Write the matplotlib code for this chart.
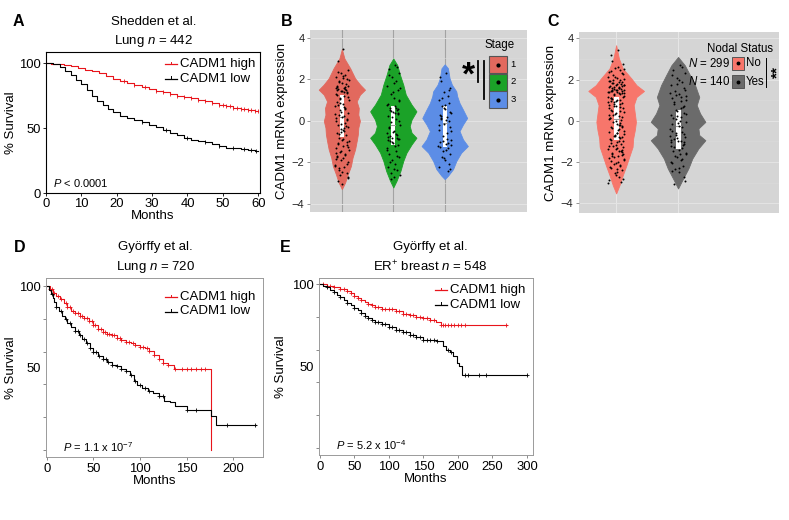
import numpy as np
import matplotlib
matplotlib.use("Agg")
import matplotlib.pyplot as plt
from matplotlib.patches import Rectangle

plt.rcParams['font.family'] = ['Liberation Sans', 'DejaVu Sans']
plt.rcParams['mathtext.fontset'] = 'custom'
plt.rcParams['mathtext.rm'] = 'Liberation Sans'
plt.rcParams['mathtext.it'] = 'Liberation Sans:italic'

# ---- data ----
# A: Shedden et al. (months, % survival)
tA_hi = [0, 1.5, 3, 5, 7, 9, 11, 13, 15, 17, 19, 21, 23, 25, 27, 29, 31, 33, 35, 37, 39,
         41, 43, 45, 47, 49, 51, 53, 55, 57, 59, 60]
sA_hi = [100, 99.5, 99, 98.3, 97.5, 96.5, 95, 93.5, 92, 90, 88, 86, 84.5, 83, 81.5, 80, 78.8,
         77.5, 76, 75, 74, 72.8, 71.8, 70.5, 69, 68, 66.8, 65.5, 64.5, 63.8, 63, 63]
tA_lo = [0, 2, 4, 5.5, 7, 8.5, 10, 11.5, 13, 14.5, 16, 17.5, 19, 21, 23, 25, 27, 29, 31, 33,
         35, 37, 39, 41, 43, 45, 47, 49, 51, 53, 55, 57, 59, 60]
sA_lo = [100, 99, 97, 94, 91, 87, 83.5, 79, 75, 71, 67.5, 64.5, 62, 59, 57.5, 56, 54.5, 52.5,
         50.5, 48.5, 46.5, 44.5, 42.5, 41, 40, 39, 37.5, 36, 35, 34.5, 34, 33, 32, 32]
cA_hi = [22, 25, 28, 31, 33, 35, 37, 39, 41, 43, 45, 47, 49, 50, 51, 52, 53, 54, 55, 56, 57,
         58, 59, 60]
cA_lo = [27, 34, 40, 45, 49, 53, 56, 58, 59.5]

# D: Gyorffy lung
tD_hi = [0, 3, 6, 10, 14, 18, 22, 26, 30, 35, 40, 45, 50, 55, 60, 65, 70, 75, 80, 85, 90, 95,
         100, 105, 110, 115, 120, 125, 130, 136, 176]
sD_hi = [100, 98, 96, 94, 92, 89.5, 87, 85, 83.5, 82, 80.5, 78.5, 76, 73.5, 72, 71, 70, 68.5,
         67, 66, 65, 64, 63, 62, 60.5, 58, 55.5, 53, 52, 49.5, 0]
tD_lo = [0, 2, 4, 6, 8, 10, 13, 16, 19, 22, 26, 30, 34, 38, 42, 46, 50, 55, 60, 65, 70, 75, 80,
         85, 89, 93, 97, 102, 108, 114, 120, 126, 132, 138, 150, 176, 181, 224]
sD_lo = [100, 97.5, 95, 92.5, 90, 87.5, 85, 82, 80, 77.5, 75, 72.5, 70, 67.5, 65, 62.5, 60,
         57.5, 55.5, 53.5, 52, 51, 49.5, 48, 46, 42, 39.5, 38, 36, 35, 33, 30, 29, 27, 24.5,
         20.5, 15.5, 15.5]
cD_hi = [3, 5, 8, 12, 15, 20, 22, 25, 28, 30, 33, 35, 38, 40, 43, 45, 48, 50, 52, 55, 58, 60,
         62, 65, 67, 70, 72, 75, 78, 80, 85, 88, 92, 95, 100, 103, 107, 110, 115, 120, 125, 130,
         137, 145, 150, 155, 160, 165, 170]
cD_lo = [5, 10, 15, 20, 25, 30, 33, 36, 40, 43, 46, 50, 53, 56, 60, 63, 66, 70, 75, 80, 85, 90,
         95, 100, 105, 110, 120, 125, 150, 160, 193, 223]

# E: Gyorffy ER+ breast
tE_hi = [0, 10, 20, 30, 40, 45, 50, 55, 60, 65, 70, 75, 80, 90, 100, 110, 120, 130, 140, 150,
         160, 168, 175, 271]
sE_hi = [100, 99, 98, 97, 95.5, 94.5, 93, 91.5, 90, 89, 88, 87, 86, 85, 84.5, 83.5, 82, 81, 80,
         79, 78, 77, 75, 75]
tE_lo = [0, 5, 10, 15, 20, 25, 30, 35, 40, 45, 50, 55, 60, 65, 70, 75, 80, 90, 100, 110, 120,
         130, 140, 150, 160, 170, 178, 183, 188, 193, 198, 202, 206, 300]
sE_lo = [100, 99, 98, 96.5, 95, 93.5, 92, 90, 88.5, 87, 85.5, 84, 82.5, 80.5, 79, 78, 77, 75.5,
         73.5, 72, 70.5, 69, 67.5, 66, 65.8, 65.5, 62, 60, 58.5, 56, 52, 50, 44.5, 44.5]
cE_hi = [5, 10, 15, 20, 30, 35, 40, 45, 50, 55, 60, 70, 75, 80, 85, 90, 95, 100, 105, 110, 115,
         120, 125, 130, 135, 140, 145, 150, 155, 160, 165, 175, 178, 182, 186, 190, 195, 200,
         205, 210, 270]
cE_lo = [10, 20, 30, 40, 50, 60, 65, 70, 75, 80, 85, 90, 95, 100, 105, 110, 115, 120, 125, 130,
         135, 140, 145, 150, 155, 160, 165, 170, 185, 190, 210, 215, 230, 240, 300]

# B: violin outlines (y, relative half width) per stage
stages = ['1', '2', '3']
vB_y = [
    [3.45, 3.0, 2.53, 2.05, 1.74, 1.5, 1.26, 0.94, 0.62, 0.3, 0.0, -0.33, -0.65, -0.97,
     -1.37, -1.77, -2.17, -2.56, -2.96, -3.28],
    [3.0, 2.69, 2.21, 1.74, 1.26, 0.78, 0.46, 0.06, -0.25, -0.57, -0.81, -1.13, -1.53,
     -1.93, -2.4, -2.88, -3.2],
    [2.72, 2.53, 2.05, 1.74, 1.42, 1.18, 0.86, 0.54, 0.14, -0.17, -0.49, -0.89, -1.21,
     -1.53, -1.93, -2.32, -2.64, -2.8],
]
vB_w = [
    [0.0, 0.11, 0.36, 0.57, 0.79, 1.0, 0.78, 0.64, 0.73, 0.71, 0.78, 0.71, 0.69, 0.64,
     0.57, 0.46, 0.39, 0.26, 0.14, 0.0],
    [0.0, 0.17, 0.29, 0.43, 0.54, 0.79, 1.0, 0.79, 0.71, 0.79, 1.0, 0.79, 0.57, 0.43,
     0.31, 0.14, 0.0],
    [0.0, 0.14, 0.21, 0.31, 0.5, 0.54, 0.64, 0.79, 0.97, 0.79, 0.64, 0.79, 1.0, 0.71,
     0.5, 0.36, 0.14, 0.0],
]
qB = [(-0.78, 0.2, 1.23), (-1.16, -0.2, 0.7), (-1.24, -0.11, 0.7)]
ptsB = [
    [3.45, 2.9, 2.45, 2.3, 2.2, 2.1, 2.0, 1.9, 1.8, 1.7, 1.65, 1.6, 1.55, 1.5, 1.45, 1.4, 1.3,
     1.2, 1.1, 1.0, 0.9, 0.8, 0.7, 0.6, 0.5, 0.4, 0.3, 0.2, 0.1, 0.0, -0.1, -0.2, -0.3, -0.4,
     -0.5, -0.6, -0.7, -0.8, -0.9, -1.0, -1.1, -1.2, -1.3, -1.4, -1.5, -1.6, -1.7, -1.8, -1.9,
     -2.0, -2.1, -2.2, -2.35, -2.5, -2.6, -2.75, -2.9, -3.05, 1.52, 1.48, 1.35, 0.45, -0.35,
     0.15, 1.75, 2.35, 2.15, 1.95, 1.85, 1.62, 1.58, 1.42, 1.25, 1.15, 0.85, 0.65, 0.35, 0.05,
     -0.15, -0.45, -0.65, -0.85, -1.05, -1.25, -1.45, -1.65, -1.85, -2.05, -2.25, -2.45, -2.7,
     1.68, 1.38, 0.75, -0.25, -0.55, -1.15, -1.55, 0.25, 1.05, -0.95, -1.75, 2.05, -2.15, 0.55],
    [2.7, 2.5, 2.3, 2.1, 1.9, 1.7, 1.5, 1.3, 1.1, 0.95, 0.8, 0.7, 0.6, 0.5, 0.45, 0.35, 0.25,
     0.1, -0.05, -0.2, -0.35, -0.5, -0.6, -0.7, -0.8, -0.85, -0.95, -1.05, -1.15, -1.3, -1.45,
     -1.6, -1.75, -1.9, -2.05, -2.2, -2.35, -2.5, -2.7, 0.55, -0.75, 0.4, -0.9, 1.6, -2.8,
     2.6, 2.2, 1.8, 1.4, 1.0, 0.75, 0.62, 0.52, 0.38, 0.2, 0.0, -0.3, -0.55, -0.65, -0.78,
     -0.88, -1.0, -1.2, -1.4, -1.7, -2.0, -2.3, -2.6, 0.48, -0.82],
    [2.3, 1.9, 1.6, 1.4, 1.2, 1.0, 0.85, 0.7, 0.55, 0.4, 0.3, 0.2, 0.1, 0.0, -0.15, -0.3,
     -0.45, -0.6, -0.75, -0.9, -1.0, -1.1, -1.2, -1.3, -1.45, -1.6, -1.75, -1.9, -2.05, -2.2,
     -2.4, 0.15, -1.15, 0.6, -0.85, 2.1, 1.5, 1.1, 0.75, 0.45, 0.25, 0.05, -0.2, -0.5, -0.95,
     -1.05, -1.25, -1.4, -1.8, -2.3],
]

# C: nodal status
nodal = ['No', 'Yes']
nodal_n = [299, 140]
vC_y = [
    [3.67, 3.02, 2.54, 2.05, 1.73, 1.45, 1.16, 0.76, 0.36, -0.05, -0.45, -0.86, -1.26,
     -1.66, -2.15, -2.63, -3.12, -3.52],
    [3.1, 2.7, 2.21, 1.73, 1.16, 0.76, 0.36, -0.05, -0.37, -0.69, -0.94, -1.34, -1.83,
     -2.31, -2.8, -3.28],
]
vC_w = [
    [0.0, 0.1, 0.24, 0.55, 0.73, 1.0, 0.73, 0.63, 0.67, 0.71, 0.67, 0.61, 0.59, 0.49,
     0.37, 0.24, 0.12, 0.0],
    [0.0, 0.24, 0.43, 0.61, 0.76, 0.67, 0.79, 0.98, 0.73, 0.76, 0.98, 0.73, 0.51, 0.37,
     0.18, 0.0],
]
qC = [(-0.94, 0.08, 1.16), (-1.37, -0.26, 0.52)]
ptsC = [
    [3.45, 3.2, 2.75, 2.55, 2.45, 2.35, 2.3, 2.2, 2.1, 2.05, 1.95, 1.9, 1.85, 1.8, 1.75, 1.7,
     1.65, 1.6, 1.55, 1.5, 1.45, 1.42, 1.38, 1.3, 1.25, 1.15, 1.05, 0.95, 0.85, 0.75, 0.65,
     0.55, 0.45, 0.35, 0.25, 0.15, 0.05, -0.05, -0.15, -0.25, -0.35, -0.45, -0.55, -0.65,
     -0.75, -0.85, -0.95, -1.05, -1.15, -1.25, -1.35, -1.45, -1.55, -1.65, -1.75, -1.85,
     -1.95, -2.05, -2.15, -2.25, -2.4, -2.55, -2.7, -2.85, -2.95, 1.48, 1.52, 1.35, 0.3,
     -0.1, 0.6, -0.6, 1.1, -1.0, 0.9, -0.4, 2.15, -1.5, 0.0, -2.0,
     2.9, 2.6, 2.4, 2.25, 2.15, 2.0, 1.92, 1.88, 1.82, 1.78, 1.72, 1.68, 1.62, 1.58, 1.53,
     1.49, 1.46, 1.4, 1.33, 1.28, 1.2, 1.1, 1.0, 0.9, 0.8, 0.7, 0.6, 0.5, 0.4, 0.2, 0.1,
     -0.2, -0.3, -0.5, -0.7, -0.8, -0.9, -1.1, -1.2, -1.3, -1.4, -1.6, -1.7, -1.8, -1.9,
     -2.1, -2.2, -2.3, -2.5, -2.65, -2.8, -3.0, 1.57, 1.43, 1.37, 1.65, 1.74, 0.95, 0.72,
     0.48, 0.12, -0.32, -0.72, -0.98, -1.22, -1.48, -1.72, -2.35, 2.5, 1.97, 1.02, 0.28,
     -0.58, -1.08, -1.62, 0.82, -0.18, 1.18, -0.78, -1.38],
    [2.7, 2.45, 2.3, 2.1, 1.9, 1.75, 1.6, 1.45, 1.3, 1.2, 1.1, 0.95, 0.8, 0.65, 0.5, 0.4,
     0.3, 0.2, 0.1, -0.05, -0.15, -0.25, -0.4, -0.55, -0.7, -0.8, -0.9, -1.0, -1.1, -1.2,
     -1.3, -1.45, -1.6, -1.75, -1.9, -2.05, -2.2, -2.35, -2.5, -2.7, -3.05, 0.0, -0.95, 1.0,
     -0.6, 2.6, 2.2, 2.0, 1.8, 1.5, 1.35, 1.15, 0.9, 0.7, 0.55, 0.35, 0.15, -0.1, -0.3, -0.5,
     -0.65, -0.85, -0.98, -1.05, -1.15, -1.25, -1.4, -1.55, -1.7, -1.85, -2.0, -2.3, -2.45,
     -2.9, 1.25, 0.6, -0.75, -1.02, 0.25, -1.6],
]
# horizontal jitter of the dots
jit = [0.03, -0.08, 0.11, -0.02, 0.06, -0.12, 0.09, -0.05, 0.01, 0.12, -0.10, 0.04, -0.07,
       0.08, -0.01, 0.10, -0.11, 0.05, -0.04, 0.13, -0.09, 0.02, -0.13, 0.07, -0.03, 0.11,
       -0.06, 0.00, 0.09, -0.12, 0.06, -0.08, 0.12, -0.02, 0.04, -0.10, 0.08, -0.05, 0.01,
       0.10, -0.07, 0.03, -0.11, 0.13, -0.04, 0.07, -0.09, 0.02, -0.01, 0.11, -0.13, 0.05,
       -0.06, 0.09, -0.03, 0.12, -0.08, 0.00, 0.06, -0.10, 0.10, -0.02, 0.04, -0.12, 0.08,
       -0.07, 0.02, 0.13, -0.05, 0.07, -0.11, 0.01, -0.09, 0.11, -0.04, 0.05, -0.13, 0.09,
       -0.01, 0.03, -0.06]

RED = '#e8141b'
colB = ['#e2695e', '#1ba228', '#5c8de6']
colC = ['#f7766b', '#6b6b6b']

W, H = 789, 520
fig = plt.figure(figsize=(W / 100, H / 100), dpi=100)


def box(l, t, r, b):
    return fig.add_axes([l / W, 1 - b / H, (r - l) / W, (b - t) / H])


def km(ax, t, s, cens, color, marker, ms):
    ax.step(t, s, where='post', color=color, lw=0.8, zorder=3)
    t = np.array(t)
    s = np.array(s)
    idx = np.searchsorted(t, cens, side='right') - 1
    ax.plot(cens, s[idx], ls='none', marker=marker, ms=ms, mew=0.6, color=color, zorder=3)


# ---- A ----
axA = box(46, 52, 260, 193)
km(axA, tA_hi, sA_hi, cA_hi, RED, '|', 2.2)
km(axA, tA_lo, sA_lo, cA_lo, 'black', '|', 2.2)
axA.set_xlim(0, 60.5)
axA.set_ylim(0, 108.5)
axA.set_xticks(range(0, 61, 10))
axA.set_yticks([0, 50, 100])
axA.tick_params(length=2, width=0.6, labelsize=9.4, pad=1.5)
for sp in axA.spines.values():
    sp.set_linewidth(0.8)
axA.set_xlabel('Months', fontsize=9.5, labelpad=0)
axA.set_ylabel('% Survival', fontsize=9.5)
axA.yaxis.set_label_coords(-0.135, 0.5)
axA.text(0.035, 0.04, r'$P$ < 0.0001', transform=axA.transAxes, fontsize=8)


# ---- D, E ----
def km_axes(ax, xmax, xt, ytop, lab_x):
    ax.set_xlim(-1, xmax)
    ax.set_ylim(-4.3, ytop)
    ax.set_xticks(xt)
    ax.set_yticks([0, 20, 40, 60, 80, 100], labels=['', '', '', '', '', '100'])
    ax.set_yticks([50], labels=['50'], minor=True)
    ax.tick_params(which='major', length=2.5, width=0.6, color='#777777', labelsize=9.4, pad=1.5)
    ax.tick_params(which='minor', length=0, labelsize=9.4, pad=4)
    for sp in ax.spines.values():
        sp.set_linewidth(0.7)
        sp.set_color('#9a9a9a')
    ax.set_xlabel('Months', fontsize=9.5, labelpad=0)
    ax.set_ylabel('% Survival', fontsize=9.5)
    ax.yaxis.set_label_coords(lab_x, 0.5)


axD = box(46, 278, 263, 457)
km(axD, tD_hi, sD_hi, cD_hi, RED, '+', 3.5)
km(axD, tD_lo, sD_lo, cD_lo, 'black', '+', 3.5)
km_axes(axD, 232, [0, 50, 100, 150, 200], 104.9, -0.135)
axD.text(0.08, 0.03, r'$P$ = 1.1 x 10$^{-7}$', transform=axD.transAxes, fontsize=8)

axE = box(319, 278, 533, 455)
km(axE, tE_hi, sE_hi, cE_hi, RED, '+', 3.5)
km(axE, tE_lo, sE_lo, cE_lo, 'black', '+', 3.5)
km_axes(axE, 308.7, [0, 50, 100, 150, 200, 250, 300], 103.7, -0.15)
axE.text(0.08, 0.03, r'$P$ = 5.2 x 10$^{-4}$', transform=axE.transAxes, fontsize=8)


# ---- violins ----
def violin_axes(ax, cats, vy, vw, q, pts, cols, vcol):
    ax.set_facecolor('#d5d5d5')
    for sp in ax.spines.values():
        sp.set_visible(False)
    ax.set_yticks([-4, -2, 0, 2, 4], labels=['\u22124', '\u22122', '0', '2', '4'])
    ax.set_yticks([-3, -1, 1, 3], minor=True)
    ax.set_xticks(range(1, len(cats) + 1), labels=[''] * len(cats))
    ax.tick_params(axis='y', which='major', length=2, width=0.5, color='#666666',
                   labelsize=8, labelcolor='#222222', pad=2)
    ax.tick_params(axis='y', which='minor', length=0)
    ax.tick_params(axis='x', length=0)
    ax.grid(axis='y', which='major', color='#e4e4e4', lw=0.7)
    ax.grid(axis='y', which='minor', color='#dcdcdc', lw=0.4)
    ax.grid(axis='x', color=vcol, lw=0.8)
    ax.set_axisbelow(True)
    for i in range(len(cats)):
        c = i + 1
        y = np.array(vy[i])
        w = np.array(vw[i]) * 0.45
        ax.fill_betweenx(y, c - w, c + w, facecolor=cols[i], edgecolor=cols[i], lw=0.6, zorder=2)
        q1, med, q3 = q[i]
        ax.add_patch(Rectangle((c - 0.04, q1), 0.08, q3 - q1, facecolor='white',
                               edgecolor='none', zorder=3))
        ax.plot([c - 0.04, c + 0.04], [med, med], color='#9a9a9a', lw=0.8, zorder=3)
        yp = np.array(pts[i])
        ax.scatter(c + np.resize(jit, len(yp)), yp, s=2.0, color='black', lw=0, zorder=4)
    ax.set_ylabel('CADM1 mRNA expression', fontsize=9.5, labelpad=3)


axB = box(310, 30, 527, 212)
violin_axes(axB, stages, vB_y, vB_w, qB, ptsB, colB, '#a3a3a3')
axB.set_xlim(0.38, 4.6)
axB.set_ylim(-4.38, 4.37)

axC = box(579, 32, 779, 213)
violin_axes(axC, nodal, vC_y, vC_w, qC, ptsC, colC, '#e6e6e6')
axC.set_xlim(0.4, 3.63)
axC.set_ylim(-4.47, 4.31)

# ---- overlay for titles, legends, annotations (pixel coords) ----
ov = fig.add_axes([0, 0, 1, 1])
ov.set_xlim(0, W)
ov.set_ylim(H, 0)
ov.axis('off')

for lab, x, y in [('A', 18, 22), ('B', 287, 22), ('C', 553, 22), ('D', 20, 247), ('E', 285, 247)]:
    ov.text(x, y, lab, fontsize=11.5, fontweight='bold', ha='center', va='center')

ov.text(154, 22, 'Shedden et al.', fontsize=9.5, ha='center', va='center')
ov.text(154, 41, r'Lung $n$ = 442', fontsize=9.5, ha='center', va='center')
ov.text(155, 247, 'Gy\u00f6rffy et al.', fontsize=9.5, ha='center', va='center')
ov.text(155, 267, r'Lung $n$ = 720', fontsize=9.5, ha='center', va='center')
ov.text(430, 247, 'Gy\u00f6rffy et al.', fontsize=9.5, ha='center', va='center')
ov.text(430, 267, r'ER$^{+}$ breast $n$ = 548', fontsize=9.5, ha='center', va='center')

# KM legends
for x0, y0 in [(165, 64), (165, 297), (435, 290)]:
    for k, (col, txt) in enumerate([(RED, 'CADM1 high'), ('black', 'CADM1 low')]):
        yy = y0 + k * 14.5
        ov.plot([x0, x0 + 12], [yy, yy], color=col, lw=0.9)
        ov.plot([x0 + 6, x0 + 6], [yy, yy - 2.5], color=col, lw=0.7)
        ov.text(x0 + 15, yy, txt, fontsize=9.5, va='center', ha='left')

# B legend
ov.text(500, 45, 'Stage', fontsize=8.3, ha='center', va='center')
for k, (col, lab) in enumerate(zip(colB, stages)):
    y0 = 56 + k * 17.5
    ov.add_patch(Rectangle((489, y0), 18, 17, facecolor=col, edgecolor='#555555', lw=0.8))
    ov.plot(498, y0 + 8.5, 'o', color='black', ms=2)
    ov.text(513, y0 + 8.5, lab, fontsize=6.8, va='center', ha='center')
ov.text(468, 76, '*', fontsize=24, fontweight='bold', ha='center', va='center')
ov.plot([478, 478], [61, 81.5], color='black', lw=1.3)
ov.plot([484, 484], [61, 98.5], color='black', lw=1.3)

# C legend
ov.text(740, 49, 'Nodal Status', fontsize=8.3, ha='center', va='center')
for k, (col, lab, n) in enumerate(zip(colC, nodal, nodal_n)):
    y0 = 56.5 + k * 18.3
    ov.add_patch(Rectangle((732, y0), 12.5, 13.5, facecolor=col, edgecolor='#555555', lw=0.7))
    ov.plot(738.2, y0 + 6.75, 'o', color='black', ms=1.8)
    ov.text(746, y0 + 6.75, lab, fontsize=8.3, va='center', ha='left')
    ov.text(730, y0 + 6.75, r'$N$ = %d' % n, fontsize=8.3, va='center', ha='right')
ov.plot([766, 766], [58, 87], color='black', lw=0.7)
ov.text(777, 72, '**', fontsize=11, fontweight='bold', rotation=90, ha='center', va='center')

fig.savefig('out.png', dpi=100)
